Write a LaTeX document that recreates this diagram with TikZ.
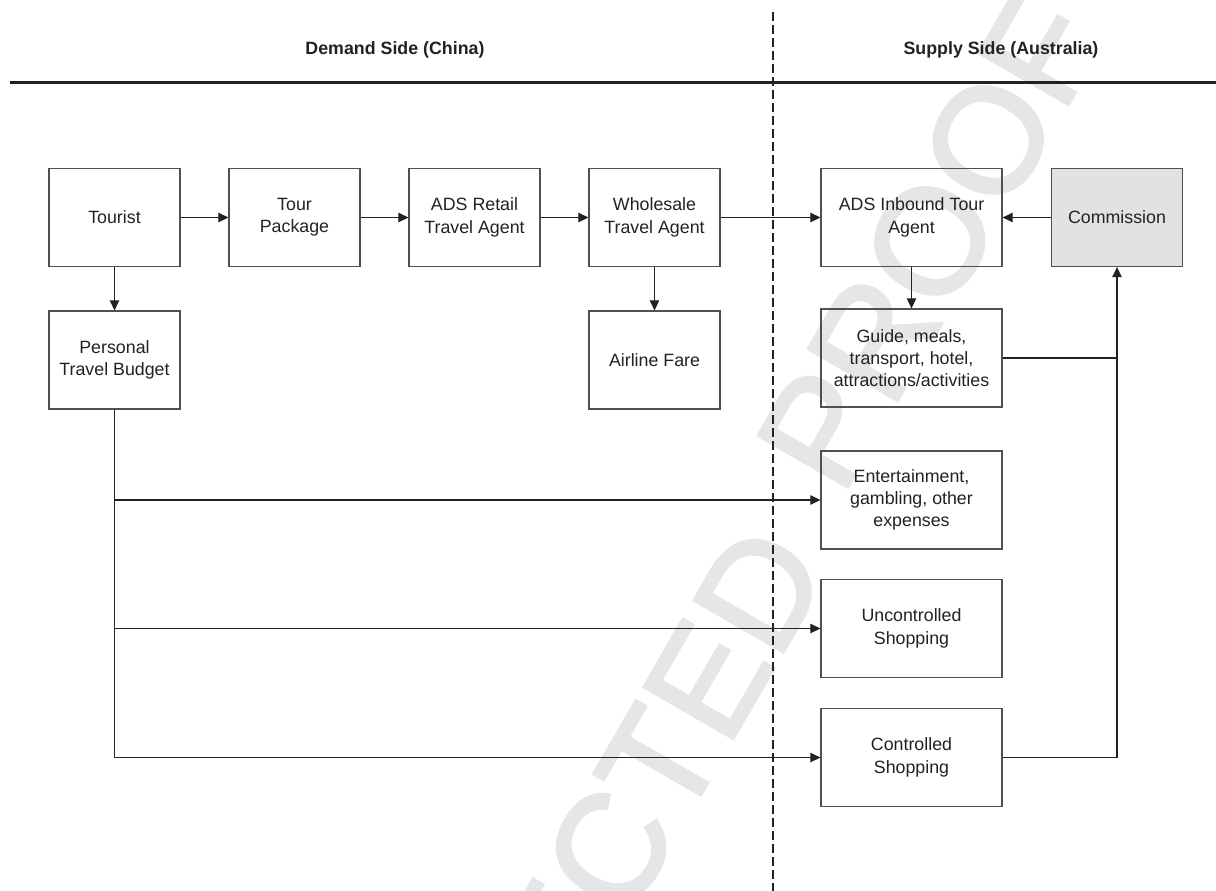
\documentclass[tikz,border=0pt]{standalone}
\usepackage{fontspec}
\setmainfont{Liberation Sans}
\newfontfamily\wmfont{Liberation Sans}[FakeBold=2]
\usetikzlibrary{arrows.meta}
\definecolor{ink}{HTML}{222222}
\definecolor{boxline}{HTML}{505050}
\definecolor{commfill}{HTML}{E2E2E3}
\definecolor{wmark}{HTML}{E6E6E6}
\begin{document}
\begin{tikzpicture}[x=1pt,y=-1pt,
  box/.style={draw=boxline, line width=1.3pt, minimum width=131pt, minimum height=98pt,
    inner sep=2pt, align=center, text=ink, font=\fontsize{17.8}{22.3}\selectfont},
  widebox/.style={box, minimum width=181pt},
  conn/.style={draw=ink, line width=1.1pt, -{Triangle[length=10pt,width=9.5pt]}},
  plainline/.style={draw=ink, line width=1.1pt},
  head/.style={text=ink, inner sep=0pt, font=\fontsize{17.8}{22}\selectfont\bfseries},
  wm/.style={text=wmark, inner sep=0pt, font=\wmfont\fontsize{150}{150}\selectfont},
  divider/.style={draw=ink, line width=2.8pt, dash pattern=on 9pt off 4pt},
  ruleline/.style={draw=ink, line width=3pt},
]
\useasboundingbox (0,0) rectangle (1216,891);
\fill[white] (0,0) rectangle (1216,891);

% watermark
\begin{scope}
  \clip (0,0) rectangle (1216,891);
  \node[wm, rotate=60] (wm1) at (495,1048) {UNCORRECTED};
  \node[wm, rotate=60] (wm2) at (930,241) {PROOF};
\end{scope}

% headers and dividers
\node[head] (headL) at (395,50) {Demand Side (China)};
\node[head] (headR) at (1001,50) {Supply Side (Australia)};
\coordinate (ruleA) at (10,83);
\coordinate (ruleB) at (1216,83);
\draw[ruleline] (ruleA) -- (ruleB);
\coordinate (divA) at (773,12);
\coordinate (divB) at (773,891);
\draw[divider] (divA) -- (divB);

% boxes
\node[box] (tourist) at (114.5,217.5) {Tourist};
\node[box] (tour) at (294.5,217.5) {Tour\\Package};
\node[box] (retail) at (474.5,217.5) {ADS Retail\\Travel Agent};
\node[box] (whole) at (654.5,217.5) {Wholesale\\Travel Agent};
\node[widebox] (inbound) at (911.5,217.5) {ADS Inbound Tour\\Agent};
\node[box, fill=commfill] (comm) at (1117,217.5) {Commission};
\node[box] (budget) at (114.5,360) {Personal\\Travel Budget};
\node[box] (airline) at (654.5,360) {Airline Fare};
\node[widebox] (guide) at (911.5,358) {Guide, meals,\\transport, hotel,\\attractions/activities};
\node[widebox] (ent) at (911.5,500) {Entertainment,\\gambling, other\\expenses};
\node[widebox] (unc) at (911.5,628.5) {Uncontrolled\\Shopping};
\node[widebox] (ctrl) at (911.5,757.5) {Controlled\\Shopping};

% connectors
\draw[conn] (tourist) -- (tour);
\draw[conn] (tour) -- (retail);
\draw[conn] (retail) -- (whole);
\draw[conn] (whole) -- (inbound);
\draw[conn] (comm) -- (inbound);
\draw[conn] (tourist) -- (budget);
\draw[conn] (whole) -- (airline);
\draw[conn] (inbound) -- (guide);

\draw[plainline] (budget.south) |- (ctrl.west);
\draw[conn] (budget.south |- ent.west) -- (ent.west);
\draw[conn] (budget.south |- unc.west) -- (unc.west);
\draw[conn] (budget.south |- ctrl.west) -- (ctrl.west);

\draw[plainline] (guide.east) -- (guide.east -| comm.south);
\draw[conn] (ctrl.east) -| (comm.south);
\end{tikzpicture}
\end{document}
